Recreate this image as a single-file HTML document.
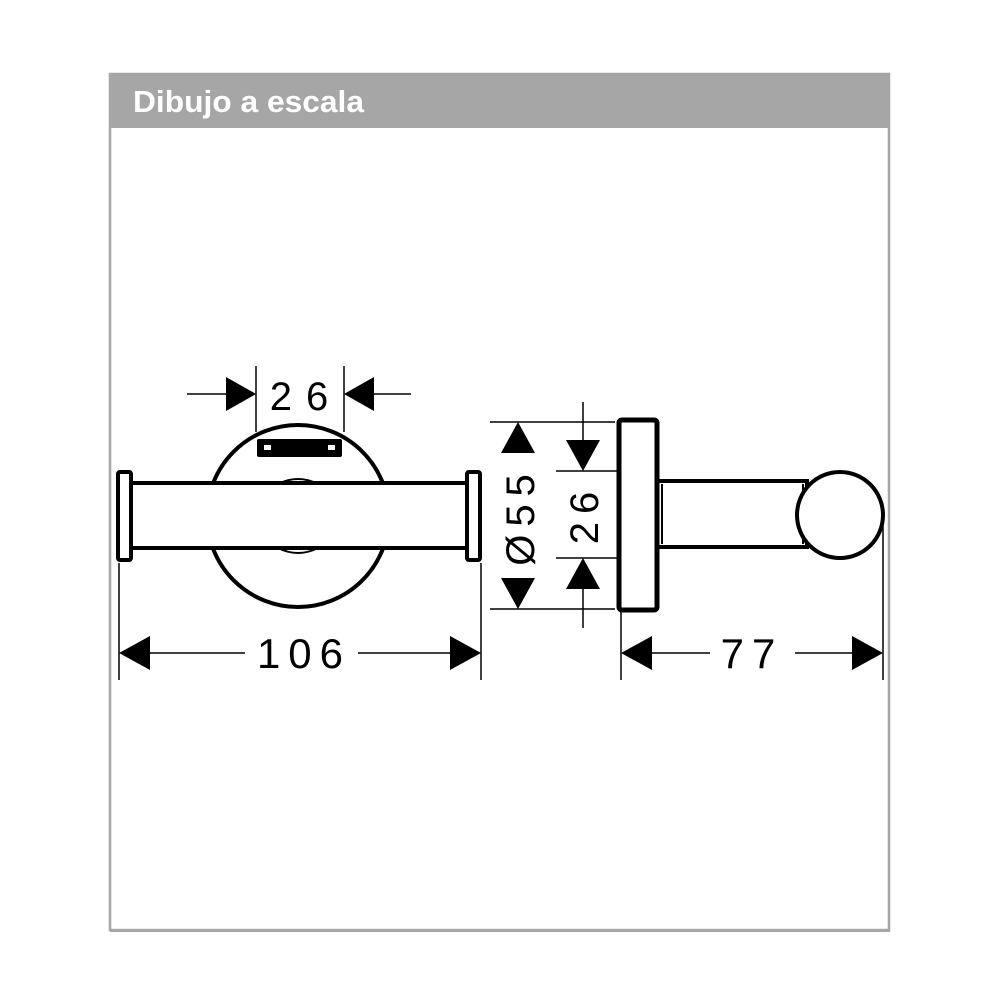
<!DOCTYPE html>
<html><head><meta charset="utf-8"><style>
html,body{margin:0;padding:0;background:#fff;width:1000px;height:1000px;overflow:hidden}
</style></head><body>
<svg width="1000" height="1000" viewBox="0 0 1000 1000" xmlns="http://www.w3.org/2000/svg">
<rect x="0" y="0" width="1000" height="1000" fill="#fff"/>
<rect x="110" y="74" width="779" height="856" fill="#fff" stroke="#a6a6a6" stroke-width="2.5"/>
<line x1="110" y1="930.5" x2="890" y2="930.5" stroke="#a6a6a6" stroke-width="3"/>
<rect x="110" y="74" width="779" height="54" fill="#a6a6a6"/>
<text x="133" y="112" font-family="Liberation Sans, sans-serif" font-weight="bold" font-size="31" fill="#fff" textLength="231" lengthAdjust="spacingAndGlyphs">Dibujo a escala</text>

<g stroke="#000" fill="none" font-family="Liberation Sans, sans-serif">
<circle cx="298" cy="516" r="91" stroke-width="4"/>
<path d="M278 484 Q298 474 318 484 M278 548 Q298 558 318 548" stroke-width="2"/>
<rect x="131" y="483" width="336" height="65" fill="#fff" stroke-width="4"/>
<rect x="118" y="472" width="13" height="88" rx="2" fill="#fff" stroke-width="4"/>
<rect x="467" y="472" width="13" height="88" rx="2" fill="#fff" stroke-width="4"/>
<rect x="257" y="439" width="85" height="18" rx="2" fill="#000" stroke="none"/>
<rect x="264" y="445" width="7" height="5" fill="#fff" stroke="none"/>
<rect x="328" y="445" width="7" height="5" fill="#fff" stroke="none"/>

<line x1="256" y1="366" x2="256" y2="432" stroke-width="1.5"/>
<line x1="344" y1="366" x2="344" y2="432" stroke-width="1.5"/>
<line x1="187" y1="394" x2="230" y2="394" stroke-width="1.5"/>
<line x1="370" y1="394" x2="411" y2="394" stroke-width="1.5"/>
<polygon points="256,394 226,377 226,411" fill="#000" stroke="none"/>
<polygon points="344,394 374,377 374,411" fill="#000" stroke="none"/>
<text x="306" y="410" text-anchor="middle" font-size="40" fill="#000" stroke="none" letter-spacing="14">26</text>

<line x1="119" y1="563" x2="119" y2="680" stroke-width="1.5"/>
<line x1="481" y1="563" x2="481" y2="680" stroke-width="1.5"/>
<line x1="150" y1="653" x2="245" y2="653" stroke-width="1.5"/>
<line x1="358" y1="653" x2="451" y2="653" stroke-width="1.5"/>
<polygon points="119,653 150,636 150,670" fill="#000" stroke="none"/>
<polygon points="481,653 450,636 450,670" fill="#000" stroke="none"/>
<text x="304" y="668" text-anchor="middle" font-size="42" fill="#000" stroke="none" letter-spacing="8">106</text>

<rect x="657" y="481" width="150" height="66" fill="#fff" stroke-width="4"/>
<line x1="662" y1="484" x2="662" y2="544" stroke-width="2"/>
<line x1="803" y1="484" x2="803" y2="544" stroke-width="2"/>
<circle cx="840" cy="515" r="43" fill="#fff" stroke-width="4"/>
<rect x="619" y="420" width="38" height="190" rx="3" fill="#fff" stroke-width="5"/>
<line x1="656" y1="445" x2="656" y2="585" stroke-width="2"/>

<line x1="490" y1="422" x2="615" y2="422" stroke-width="1.5"/>
<line x1="490" y1="609" x2="615" y2="609" stroke-width="1.5"/>
<polygon points="518,422 501,453 535,453" fill="#000" stroke="none"/>
<polygon points="518,609 501,578 535,578" fill="#000" stroke="none"/>
<text transform="translate(534,516) rotate(-90)" text-anchor="middle" font-size="40" fill="#000" stroke="none" letter-spacing="8">Ø55</text>

<line x1="556" y1="471" x2="617" y2="471" stroke-width="1.5"/>
<line x1="556" y1="558" x2="617" y2="558" stroke-width="1.5"/>
<line x1="583" y1="402" x2="583" y2="441" stroke-width="1.5"/>
<line x1="583" y1="588" x2="583" y2="628" stroke-width="1.5"/>
<polygon points="583,471 566,440 600,440" fill="#000" stroke="none"/>
<polygon points="583,558 566,589 600,589" fill="#000" stroke="none"/>
<text transform="translate(598,514) rotate(-90)" text-anchor="middle" font-size="40" fill="#000" stroke="none" letter-spacing="8">26</text>

<line x1="621" y1="612" x2="621" y2="680" stroke-width="1.5"/>
<line x1="883" y1="520" x2="883" y2="680" stroke-width="1.5"/>
<line x1="652" y1="653" x2="710" y2="653" stroke-width="1.5"/>
<line x1="795" y1="653" x2="852" y2="653" stroke-width="1.5"/>
<polygon points="621,653 652,636 652,670" fill="#000" stroke="none"/>
<polygon points="883,653 852,636 852,670" fill="#000" stroke="none"/>
<text x="752" y="668" text-anchor="middle" font-size="42" fill="#000" stroke="none" letter-spacing="8">77</text>
</g>
</svg>
</body></html>
